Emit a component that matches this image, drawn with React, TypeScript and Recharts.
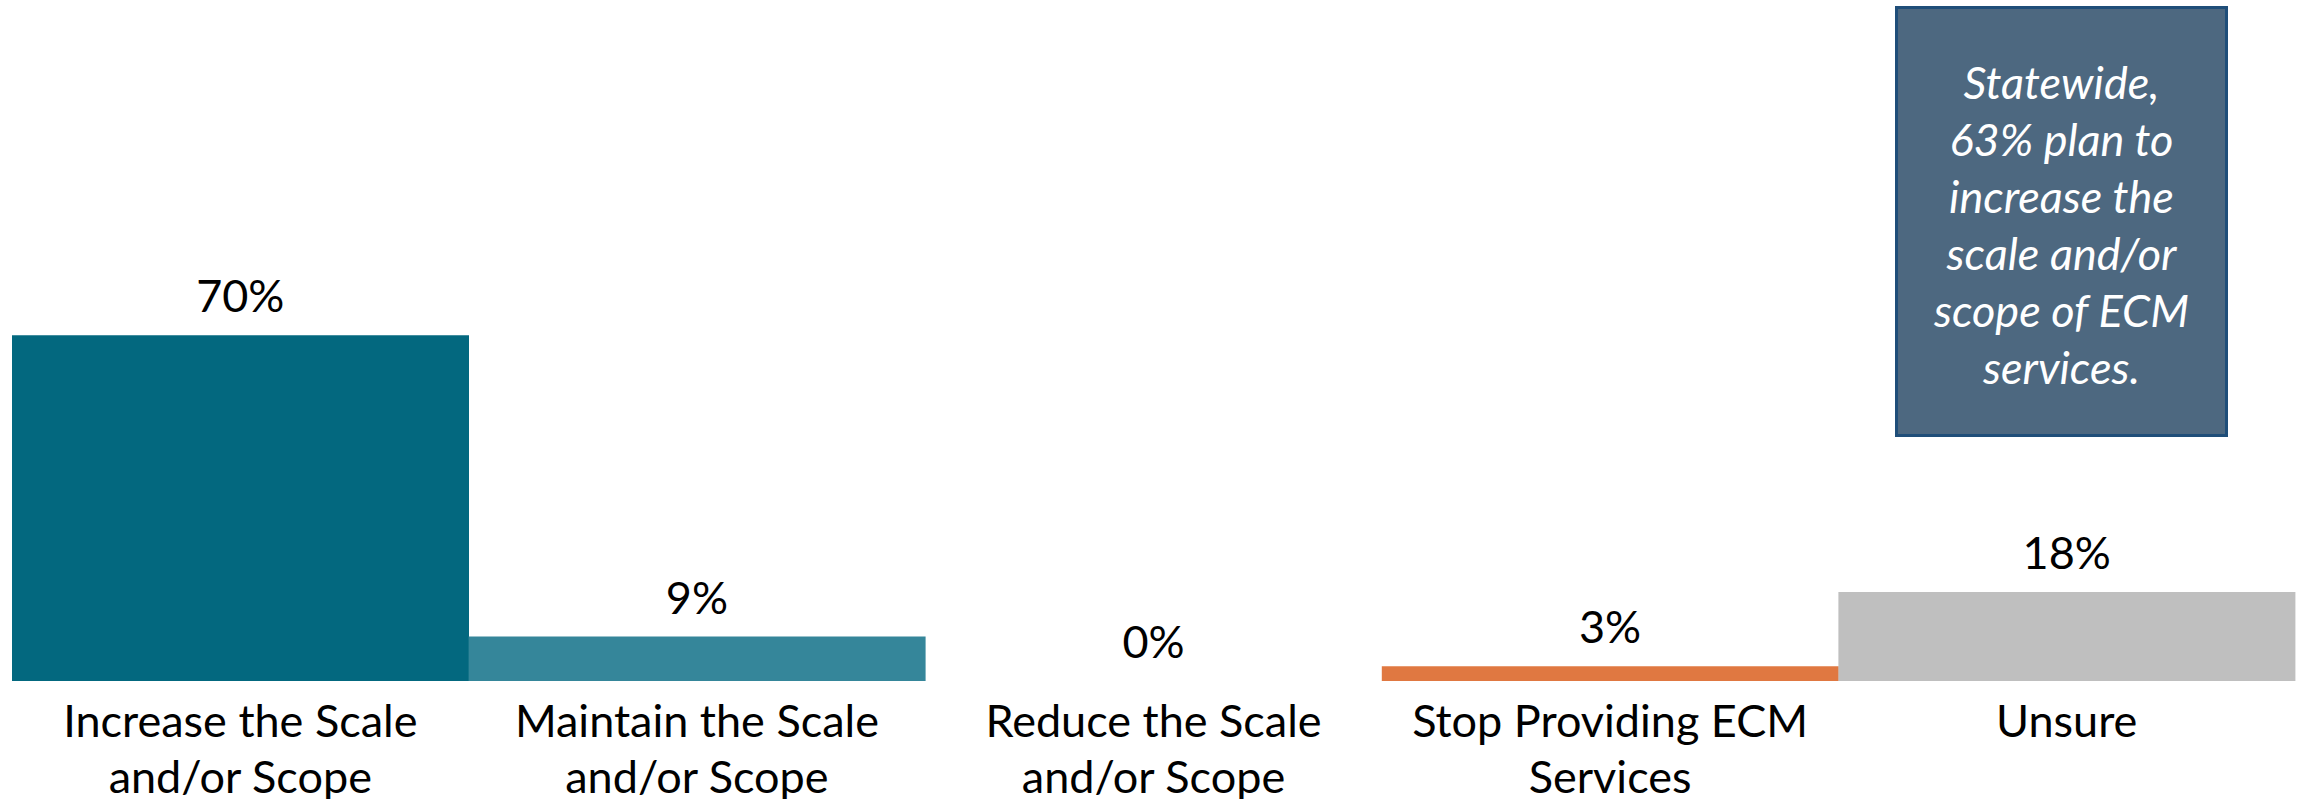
import { ComposedChart, Bar, Line, XAxis, YAxis, Cell, LabelList } from "recharts";

// ECM plans, share of respondents (%)
const categories = ["Increase", "Maintain", "Reduce", "Stop", "Unsure"];
const tickLabels = [
  ["Increase the Scale", "and/or Scope"],
  ["Maintain the Scale", "and/or Scope"],
  ["Reduce the Scale", "and/or Scope"],
  ["Stop Providing ECM", "Services"],
  ["Unsure"],
];
const values = [70, 9, 0, 3, 18];
const colors = ["#03687F", "#35869A", "#35869A", "#E07841", "#BFBFBF"];
const noteLines = ["Statewide,", "63% plan to", "increase the", "scale and/or", "scope of ECM", "services."];

const data = categories.map((c, i) => ({ cat: c, value: values[i] }));

const FONT = "Lato, 'Open Sans', sans-serif";

function CatTick({ x, y, index }: { x?: number; y?: number; index?: number }) {
  const lines = tickLabels[index ?? 0] || [];
  return (
    <g>
      {lines.map((l, i) => (
        <text key={i} x={x} y={(y ?? 0) + 48 + i * 56} textAnchor="middle" fill="#000" fontSize={45} fontFamily={FONT}>
          {l}
        </text>
      ))}
    </g>
  );
}

export default function App() {
  return (
    <div style={{ position: "absolute", left: 0, top: 0, width: 2302, height: 799, background: "#fff" }}>
      <ComposedChart width={2302} height={799} data={data} margin={{ top: 187, right: 7, left: 12, bottom: 0 }} barCategoryGap={0}>
        <XAxis dataKey="cat" height={118} axisLine={false} tickLine={false} interval={0} tick={<CatTick />} />
        <YAxis hide domain={[0, 100]} />
        <Bar dataKey="value" isAnimationActive={false}>
          {data.map((d, i) => (
            <Cell key={d.cat} fill={colors[i]} />
          ))}
        </Bar>
        {/* invisible series only to carry the value labels (incl. the 0% one) */}
        <Line dataKey="value" stroke="none" dot={false} activeDot={false} isAnimationActive={false}>
          <LabelList dataKey="value" position="top" offset={23} formatter={(v: any) => `${v}%`} fill="#000" fontSize={45} fontFamily={FONT} />
        </Line>
      </ComposedChart>
      <div
        style={{
          position: "absolute",
          left: 1895,
          top: 6,
          width: 333,
          height: 431,
          boxSizing: "border-box",
          background: "#4D6880",
          border: "3px solid #1F4E79",
          color: "#fff",
          fontFamily: FONT,
          fontStyle: "italic",
          fontSize: 45,
          lineHeight: "57px",
          textAlign: "center",
          display: "flex",
          flexDirection: "column",
          justifyContent: "center",
          paddingTop: 6,
        }}
      >
        {noteLines.map((l) => (
          <div key={l}>{l}</div>
        ))}
      </div>
    </div>
  );
}
